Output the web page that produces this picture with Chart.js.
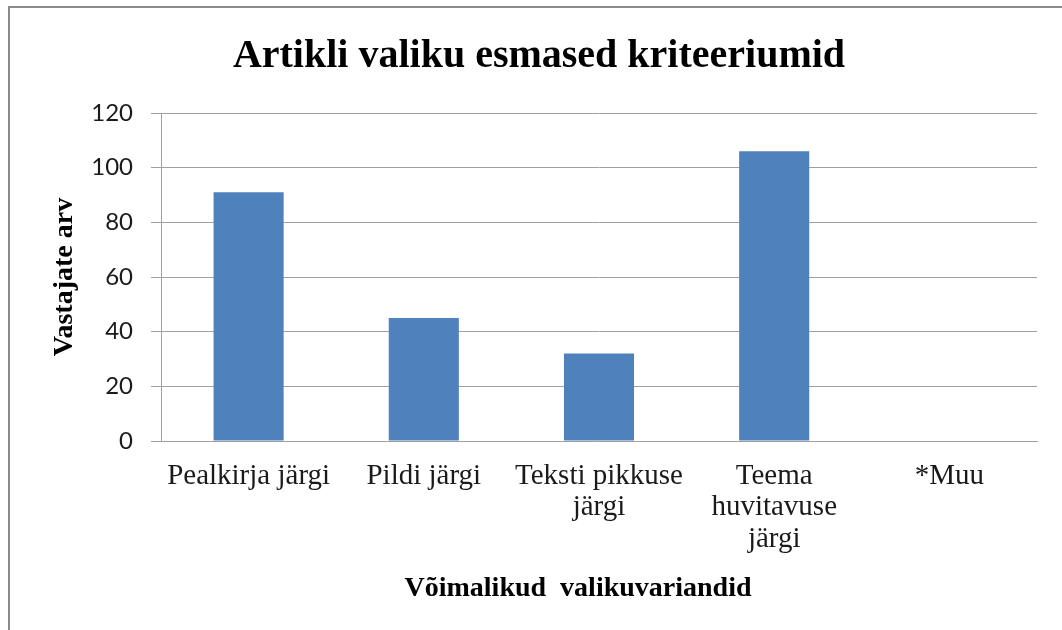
<!DOCTYPE html>
<html>
<head>
<meta charset="utf-8">
<script src="https://cdn.jsdelivr.net/npm/chart.js@4"></script>
<style>
  html, body { margin: 0; padding: 0; background: #ffffff; overflow: hidden; }
  #wrap { position: relative; width: 1062px; height: 630px; overflow: hidden; background: #fff; }
  #frame { position: absolute; left: 8px; top: 6px; width: 2000px; height: 2000px;
           border-left: 2px solid #8a8a8a; border-top: 2px solid #8a8a8a; }
  #c { position: absolute; left: 0; top: 0; }
</style>
</head>
<body>
<div id="wrap">
  <div id="frame"></div>
  <canvas id="c" width="1062" height="630"></canvas>
</div>
<script>
const chartTitle = 'Artikli valiku esmased kriteeriumid';
const yAxisTitle = 'Vastajate arv';
const xAxisTitle = 'Võimalikud  valikuvariandid';
const categories = [
  ['Pealkirja järgi'],
  ['Pildi järgi'],
  ['Teksti pikkuse', 'järgi'],
  ['Teema', 'huvitavuse', 'järgi'],
  ['*Muu']
];
const values = [91, 45, 32, 106, 0];
const yMin = 0, yMax = 120, yStep = 20;

const serif = "'Liberation Serif', 'Times New Roman', serif";
const gridColor = '#a0a0a0';
const textColor = '#1a1a1a';

new Chart(document.getElementById('c'), {
  type: 'bar',
  data: {
    labels: categories,
    datasets: [{
      data: values,
      backgroundColor: '#4f81bd',
      borderWidth: 0,
      barPercentage: 0.4,
      categoryPercentage: 1.0
    }]
  },
  options: {
    responsive: false,
    animation: false,
    layout: { padding: { left: 41, right: 25, top: 0, bottom: 0 } },
    plugins: {
      legend: { display: false },
      tooltip: { enabled: false },
      title: {
        display: true,
        text: chartTitle,
        color: '#000',
        font: { family: serif, size: 40, weight: 'bold', lineHeight: 1.2 },
        padding: { top: 33, bottom: 32 }
      }
    },
    scales: {
      x: {
        grid: { display: false, drawTicks: false },
        border: { display: true, color: gridColor, width: 1 },
        ticks: {
          color: textColor,
          font: { family: serif, size: 29, lineHeight: 1.1 },
          padding: 19,
          maxRotation: 0,
          autoSkip: false
        },
        title: {
          display: true,
          text: xAxisTitle + '\u00A0\u00A0\u00A0\u00A0\u00A0\u00A0',
          color: '#000',
          font: { family: serif, size: 28, weight: 'bold', lineHeight: 1.2 },
          padding: { top: 0, bottom: 24 }
        },
        afterFit: (s) => { s.height = 189; }
      },
      y: {
        min: yMin,
        max: yMax,
        ticks: {
          stepSize: yStep,
          color: textColor,
          font: { family: "Lato, 'Liberation Sans', sans-serif", size: 24 },
          padding: 18
        },
        grid: { color: gridColor, lineWidth: 1, tickLength: 10, drawTicks: true },
        border: { display: true, color: gridColor, width: 1 },
        title: {
          display: true,
          text: yAxisTitle,
          color: '#000',
          font: { family: serif, size: 28, weight: 'bold', lineHeight: 1.2 },
          padding: { top: 7, bottom: 0 }
        },
        afterFit: (s) => { s.width = 120; }
      }
    }
  }
});
</script>
</body>
</html>
